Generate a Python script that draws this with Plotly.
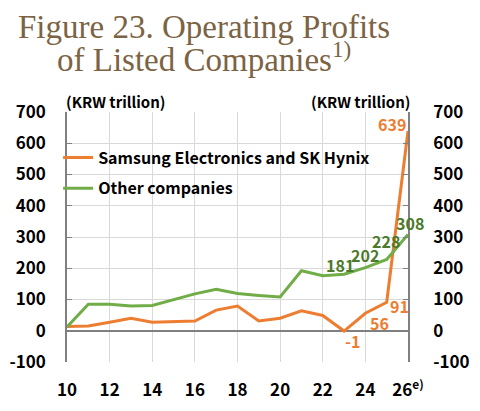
import plotly.graph_objects as go

years = list(range(2010, 2027))
samsung_hynix = [14, 15, 27, 40, 27, 30, 31, 66, 79, 31, 40, 64, 49, -1, 56, 91, 639]
others = [12, 85, 85, 79, 81, 99, 118, 133, 119, 113, 108, 192, 176, 181, 202, 228, 308]

x_ticks = [2010, 2012, 2014, 2016, 2018, 2020, 2022, 2024, 2026]
x_labels = ['10', '12', '14', '16', '18', '20', '22', '24', '26<sup>e)</sup>']
y_ticks = [-100, 0, 100, 200, 300, 400, 500, 600, 700]
y_labels = ['-100', '0', '100', '200', '300', '400', '500', '600', '700']

# labelled years and pixel nudges of their value labels
labelled = [2023, 2024, 2025, 2026]
orange_shift = {2023: (8, -10), 2024: (14, -10), 2025: (13, -4), 2026: (-16, 7)}
green_shift = {2023: (-4, 9), 2024: (0, 13), 2025: (-1, 19), 2026: (2, 12)}

ORANGE = '#ED7D31'
GREEN = '#70AD47'
DKGREEN = '#4A7A2A'
BROWN = '#7B6343'
FONT = 'Noto Sans CJK KR'

fig = go.Figure()
fig.add_trace(go.Scatter(x=years, y=samsung_hynix, name='Samsung Electronics and SK Hynix',
                         mode='lines', line=dict(color=ORANGE, width=3), legendgroup='a'))
fig.add_trace(go.Scatter(x=years, y=others, name='Other companies', yaxis='y2',
                         mode='lines', line=dict(color=GREEN, width=3), legendgroup='b'))

for vals, shifts, col in [(samsung_hynix, orange_shift, ORANGE), (others, green_shift, DKGREEN)]:
    for y, v in zip(years, vals):
        if y in labelled:
            dx, dy = shifts[y]
            fig.add_annotation(x=y, y=v, text=str(v), showarrow=False, xshift=dx, yshift=dy,
                               font=dict(size=16, family=FONT, color=col, weight='bold'))

yax = dict(range=[-100, 700], tickvals=y_ticks, ticktext=y_labels, showline=True,
           linecolor='#808080', linewidth=1.5, ticks='inside', ticklen=5, tickcolor='#808080',
           automargin=False,
           tickfont=dict(size=17, family=FONT, color='black', weight='bold'))

# page body adds 8px offset, so margins are set 8px smaller at left/top
fig.update_layout(
    width=480, height=411,
    margin=dict(l=59, r=80, t=104, b=57),
    plot_bgcolor='white', paper_bgcolor='white',
    showlegend=True,
    legend=dict(x=-0.026, y=0.886, xanchor='left', yanchor='top', bgcolor='rgba(0,0,0,0)',
                font=dict(size=16, family=FONT, color='black', weight='bold'), tracegroupgap=7),
    xaxis=dict(range=[2010, 2026], tickvals=x_ticks, ticktext=x_labels,
               showgrid=True, gridcolor='#D9D9D9', gridwidth=1, showline=False,
               ticks='', ticklabelstandoff=16, automargin=False,
               tickfont=dict(size=17, family=FONT, color='black', weight='bold')),
    yaxis=dict(**yax, showgrid=True, gridcolor='#D9D9D9', gridwidth=1,
               zeroline=True, zerolinecolor='#808080', zerolinewidth=2,
               ticklabelstandoff=16),
    yaxis2=dict(**yax, overlaying='y', side='right', showgrid=False, zeroline=False,
                ticklabelstandoff=20),
)

fig.add_annotation(text='Figure 23. Operating Profits', xref='paper', yref='paper',
                   x=137 / 341, y=1.338, xanchor='center', yanchor='middle',
                   showarrow=False, font=dict(size=33, family='Liberation Serif', color=BROWN))
fig.add_annotation(text='of Listed Companies<sup>1)</sup>', xref='paper', yref='paper',
                   x=137 / 341, y=1.222, xanchor='center', yanchor='middle',
                   showarrow=False, font=dict(size=33, family='Liberation Serif', color=BROWN))
fig.add_annotation(text='(KRW trillion)', xref='paper', yref='paper', x=0, y=1.042,
                   xanchor='left', yanchor='middle', xshift=-3, showarrow=False,
                   font=dict(size=15, family=FONT, color='black', weight='bold'))
fig.add_annotation(text='(KRW trillion)', xref='paper', yref='paper', x=1, y=1.042,
                   xanchor='right', yanchor='middle', xshift=4, showarrow=False,
                   font=dict(size=15, family=FONT, color='black', weight='bold'))

fig.write_html('out.html')
